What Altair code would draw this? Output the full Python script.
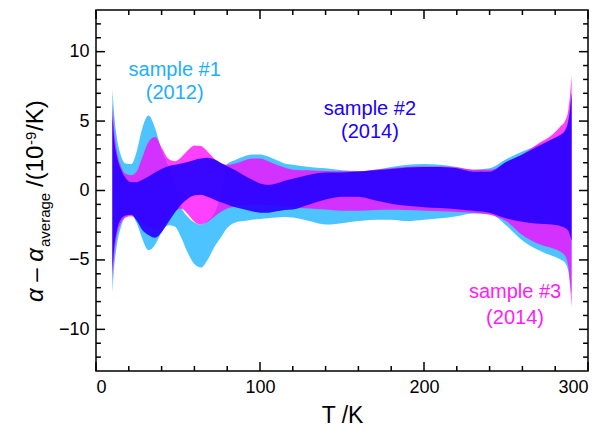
import altair as alt
import pandas as pd

# ---- data ----
T = [10, 11, 12.5, 15, 18, 21.5, 25, 28, 32, 36, 40, 44, 48, 52, 56, 60, 64, 68, 72, 76,
     80, 85, 90, 95, 100, 105, 110, 115, 120, 130, 140, 150, 160, 170, 180, 190, 200, 210,
     220, 230, 240, 250, 260, 270, 278, 283, 286, 288, 289, 290]

# sample #1 (2012) – light blue band
U1 = [7.3, 5.6, 4.0, 2.6, 1.95, 1.9, 2.9, 4.4, 5.4, 4.5, 2.9, 1.8, 0.4, -1.2, -1.9, -2.3, -2.45, -2.2, -1.7, -0.3,
      1.9, 2.2, 2.45, 2.6, 2.6, 2.45, 2.2, 1.95, 1.85, 1.7, 1.6, 1.45, 1.4, 1.5, 1.7, 1.85, 1.9, 1.85,
      1.7, 1.5, 1.6, 2.25, 2.8, 3.3, 3.7, 4.0, 4.4, 5.0, 5.8, 7.0]
L1 = [-7.4, -5.6, -4.1, -2.7, -1.9, -1.74, -2.4, -3.4, -4.3, -3.9, -3.0, -2.5, -2.6, -3.4, -4.5, -5.3, -5.55, -5.0, -4.1, -3.4,
      -2.7, -2.3, -2.2, -2.1, -2.05, -2.0, -1.95, -1.9, -1.95, -2.2, -2.45, -2.35, -2.2, -2.1, -2.1, -2.2, -2.1, -2.0,
      -1.85, -1.65, -1.7, -2.5, -3.6, -4.3, -4.7, -4.95, -5.2, -5.8, -6.5, -7.5]

# sample #2 (2014) – blue band
U2 = [5.5, 3.8, 2.6, 1.6, 0.9, 0.6, 0.6, 0.75, 1.0, 1.3, 1.55, 1.75, 1.85, 1.95, 2.05, 2.2, 2.3, 2.35, 2.25, 2.0,
      1.75, 1.45, 1.1, 0.8, 0.5, 0.4, 0.5, 0.7, 0.85, 1.14, 1.3, 1.3, 1.36, 1.45, 1.55, 1.65, 1.7, 1.7,
      1.6, 1.35, 1.35, 2.05, 2.6, 3.2, 3.7, 4.0, 4.3, 5.0, 5.8, 7.0]
L2 = [-5.8, -4.2, -3.0, -2.1, -1.8, -1.74, -2.2, -2.8, -3.2, -3.4, -3.0, -2.3, -1.6, -1.0, -0.6, -0.35, -0.3, -0.45, -0.65, -0.85,
      -1.0, -1.2, -1.35, -1.5, -1.6, -1.6, -1.5, -1.4, -1.36, -1.0, -0.65, -0.45, -0.45, -0.7, -0.95, -1.1, -1.2, -1.26,
      -1.35, -1.45, -1.6, -2.0, -2.25, -2.4, -2.45, -2.55, -2.7, -2.9, -3.2, -3.6]

# sample #3 (2014) – magenta band
U3 = [6.3, 4.5, 3.0, 1.8, 1.2, 1.1, 1.4, 2.3, 3.5, 3.85, 3.1, 2.3, 2.1, 2.4, 2.9, 3.25, 3.2, 2.8, 2.3, 1.95,
      1.85, 1.95, 2.15, 2.3, 2.3, 2.1, 1.85, 1.65, 1.5, 1.45, 1.4, 1.38, 1.38, 1.5, 1.6, 1.7, 1.72, 1.72,
      1.65, 1.5, 1.5, 1.95, 2.6, 3.4, 4.0, 4.6, 5.0, 5.8, 6.8, 8.3]
L3 = [-6.5, -4.8, -3.4, -2.4, -1.95, -1.85, -2.0, -2.3, -2.6, -2.8, -2.6, -2.0, -1.5, -1.3, -1.7, -2.25, -2.45, -2.25, -1.9, -1.55,
      -1.3, -1.15, -1.05, -1.0, -1.0, -1.05, -1.1, -1.15, -1.2, -1.3, -1.36, -1.45, -1.45, -1.4, -1.38, -1.4, -1.45, -1.5,
      -1.55, -1.6, -1.75, -2.2, -3.2, -3.85, -4.15, -4.4, -4.7, -5.5, -6.8, -8.4]

# annotations
label_text = ["sample #1", "(2012)", "sample #2", "(2014)", "sample #3", "(2014)"]
label_T = [48, 48, 167, 167, 255.5, 255.5]
label_v = [8.65, 7.05, 5.9, 4.2, -7.3, -9.15]
label_color = ["#22AEFF", "#22AEFF", "#1A00FF", "#1A00FF", "#FF1AFF", "#FF1AFF"]

x_ticks = [0, 100, 200, 300]
y_ticks = [-10, -5, 0, 5, 10]
x_minor = [20, 40, 60, 80, 120, 140, 160, 180, 220, 240, 260, 280]
y_minor = [v for v in range(-12, 13) if v % 5 != 0]

XMIN, XMAX, YMIN, YMAX = 0, 300, -13, 13
FONT = "Liberation Sans"

xs = alt.Scale(domain=[XMIN, XMAX], nice=False, zero=False)
ys = alt.Scale(domain=[YMIN, YMAX], nice=False, zero=False)
xaxis = alt.Axis(values=x_ticks, title="T /K", labelFontSize=18, labelPadding=7,
                 titleFontSize=23, titlePadding=8, tickSize=0)
yaxis = alt.Axis(values=y_ticks, title=None, labelFontSize=18, labelPadding=7, tickSize=0)


def band(U, L, color, opacity):
    df = pd.DataFrame({"T": T, "hi": U, "lo": L})
    return alt.Chart(df).mark_area(color=color, opacity=opacity, interpolate="monotone").encode(
        x=alt.X("T:Q", scale=xs, axis=xaxis),
        y=alt.Y("hi:Q", scale=ys, axis=yaxis),
        y2="lo:Q",
    )


area1 = band(U1, L1, "#4DC3FF", 1.0)
area3 = band(U3, L3, "#FF00FF", 0.75)
area2 = band(U2, L2, "#2A02FF", 0.93)

# inward ticks on all four sides
tx_major, tx_minor = 0.65, 0.36   # in y units
ty_major, ty_minor = 5.5, 3.0     # in x units
rows = []
for v in x_ticks + x_minor:
    ln = tx_major if v in x_ticks else tx_minor
    rows.append({"x": v, "x2": v, "y": YMIN, "y2": YMIN + ln})
    rows.append({"x": v, "x2": v, "y": YMAX, "y2": YMAX - ln})
for v in y_ticks + y_minor:
    ln = ty_major if v in y_ticks else ty_minor
    rows.append({"x": XMIN, "x2": XMIN + ln, "y": v, "y2": v})
    rows.append({"x": XMAX, "x2": XMAX - ln, "y": v, "y2": v})
ticks = alt.Chart(pd.DataFrame(rows)).mark_rule(color="black", strokeWidth=1.5).encode(
    x=alt.X("x:Q", scale=xs, axis=xaxis), x2="x2:Q",
    y=alt.Y("y:Q", scale=ys, axis=yaxis), y2="y2:Q",
)

labels_df = pd.DataFrame({"T": label_T, "v": label_v, "text": label_text, "color": label_color})
labels = alt.Chart(labels_df).mark_text(fontSize=20, font=FONT, align="center", baseline="middle").encode(
    x=alt.X("T:Q", scale=xs, axis=xaxis),
    y=alt.Y("v:Q", scale=ys, axis=yaxis),
    text="text:N",
    color=alt.Color("color:N", scale=None),
)

# y-axis title built from pieces (sub/superscripts)
one = pd.DataFrame({"k": [0]})
title_pieces = [
    ("α – α", 24, "italic", -53, 292),
    ("average", 15, "normal", -46, 237),
    ("/(10", 24, "normal", -53, 177),
    ("-9", 15, "normal", -60, 135),
    ("/K)", 24, "normal", -53, 121),
]
tlayers = []
for txt, size, style, px, py in title_pieces:
    tlayers.append(
        alt.Chart(one).mark_text(angle=270, align="left", baseline="alphabetic", fontSize=size,
                                 fontStyle=style, font=FONT, color="black").encode(
            x=alt.value(px), y=alt.value(py), text=alt.value(txt))
    )

chart = alt.layer(area1, area3, area2, ticks, labels, *tlayers).properties(
    width=492, height=361,
    padding={"left": 88, "top": 2, "right": 8, "bottom": 55},
    autosize=alt.AutoSizeParams(type="none"),
).configure_view(stroke="black", strokeWidth=1.5).configure_axis(
    grid=False, domain=False, ticks=False, labelFont=FONT, titleFont=FONT,
    labelColor="black", titleColor="black", titleFontWeight="normal",
)

chart.save("out.html", embed_options={"renderer": "svg", "actions": False})
